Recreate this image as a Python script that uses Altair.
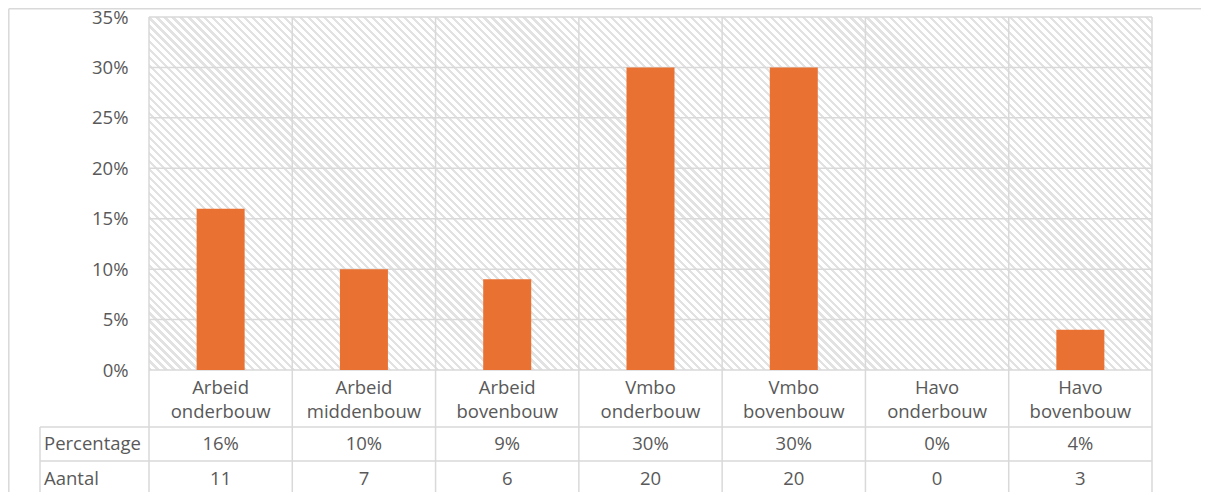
import altair as alt
import pandas as pd

# ---------------- data ----------------
categories = [
    "Arbeid onderbouw",
    "Arbeid middenbouw",
    "Arbeid bovenbouw",
    "Vmbo onderbouw",
    "Vmbo bovenbouw",
    "Havo onderbouw",
    "Havo bovenbouw",
]
percentages = [16, 10, 9, 30, 30, 0, 4]
counts = [11, 7, 6, 20, 20, 0, 3]
y_ticks = [0, 5, 10, 15, 20, 25, 30, 35]
row_labels = ["Percentage", "Aantal"]

# ---------------- style / layout ----------------
W, H = 1003, 353
GRID = "#d9d9d9"
HATCH = "#e2e2e2"
TEXT = "#595959"
BAR = "#E97132"
FONT = "Open Sans"
FS = 18.5

df = pd.DataFrame({
    "cat": categories,
    "pct": [p / 100 for p in percentages],
    "n": counts,
    "pct_label": [f"{p}%" for p in percentages],
    "n_label": [str(c) for c in counts],
})
ticks_df = pd.DataFrame({"pct": [t / 100 for t in y_ticks]})

# diagonal hatch as a striped linear gradient (objectBoundingBox units)
t = (W + H) / (W * W + H * H)
x2g, y2g = t * W, 1 - t * H
N = round((W + H) / 8)
stops = []
for i in range(N):
    a = round(i / N, 6)
    b = round((i + 0.4) / N, 6)
    c = round((i + 1) / N, 6)
    stops += [
        alt.GradientStop(color=HATCH, offset=a),
        alt.GradientStop(color=HATCH, offset=b),
        alt.GradientStop(color="#ffffff", offset=b),
        alt.GradientStop(color="#ffffff", offset=c),
    ]
hatch_fill = alt.LinearGradient(gradient="linear", stops=stops, x1=0, y1=1, x2=x2g, y2=y2g)

x_axis = alt.Axis(
    title=None, grid=False, domain=False, ticks=False, labelAngle=0,
    labelExpr="split(datum.label, ' ')", labelLineHeight=24, labelPadding=8,
    labelFont=FONT, labelFontSize=FS, labelColor=TEXT, labelLimit=0,
)
x_scale = alt.Scale(paddingInner=0, paddingOuter=0)
y_axis = alt.Axis(
    title=None, grid=False, domain=False, ticks=False, values=[t_ / 100 for t_ in y_ticks],
    format=".0%", labelPadding=21, labelFont=FONT, labelFontSize=FS, labelColor=TEXT,
)
y_scale = alt.Scale(domain=[0, 0.35], nice=False, zero=True)

def xenc(**kw):
    return alt.X("cat:N", sort=categories, scale=x_scale, axis=x_axis, **kw)

def yenc():
    return alt.Y("pct:Q", scale=y_scale, axis=y_axis)

one = alt.Data(values=[{"k": 1}])

def rule(x, y, x2=None, y2=None):
    enc = {"x": alt.value(x), "y": alt.value(y)}
    if x2 is not None:
        enc["x2"] = alt.value(x2)
    if y2 is not None:
        enc["y2"] = alt.value(y2)
    return alt.Chart(one).mark_rule(color=GRID, strokeWidth=1.5).encode(**enc)

hatch = alt.Chart(one).mark_rect(fill=hatch_fill).encode(
    x=alt.value(0), x2=alt.value(W), y=alt.value(0), y2=alt.value(H)
)

hgrid = alt.Chart(ticks_df).mark_rule(color=GRID, strokeWidth=1.5).encode(
    y=yenc(), x=alt.value(0), x2=alt.value(W)
)

vgrid = alt.Chart(df).mark_rule(color=GRID, strokeWidth=1.5).encode(
    x=xenc(bandPosition=0), y=alt.value(0), y2=alt.value(H + 140)
)
vright = rule(W, 0, y2=H + 140)

bars = alt.Chart(df).mark_bar(color=BAR, width=alt.RelativeBandSize(0.335)).encode(
    x=xenc(), y=yenc()
)

row1 = rule(-109, 410, x2=W)
row2 = rule(-109, 444, x2=W)
vleft = rule(-109, 410, y2=H + 140)

pct_text = alt.Chart(df).mark_text(
    font=FONT, fontSize=FS, color=TEXT, baseline="alphabetic", align="center"
).encode(x=xenc(), y=alt.value(433), text="pct_label:N")

n_text = alt.Chart(df).mark_text(
    font=FONT, fontSize=FS, color=TEXT, baseline="alphabetic", align="center"
).encode(x=xenc(), y=alt.value(468), text="n_label:N")

row_text1 = alt.Chart(alt.Data(values=[{"label": row_labels[0]}])).mark_text(
    font=FONT, fontSize=FS, color=TEXT, baseline="alphabetic", align="left"
).encode(x=alt.value(-105), y=alt.value(433), text="label:N")
row_text2 = alt.Chart(alt.Data(values=[{"label": row_labels[1]}])).mark_text(
    font=FONT, fontSize=FS, color=TEXT, baseline="alphabetic", align="left"
).encode(x=alt.value(-105), y=alt.value(468), text="label:N")

# outer chart frame (sits at the edge of the drawing surface)
frame_top = rule(-140.2, -8.2, x2=1059)
frame_left = rule(-140.2, -8.2, y2=700)

chart = alt.layer(
    hatch, hgrid, vgrid, vright, bars, row1, row2, vleft,
    pct_text, n_text, row_text1, row_text2, frame_top, frame_left
).properties(
    width=W, height=H,
    autosize=alt.AutoSizeParams(type="none"),
    padding={"left": 141, "top": 9, "right": 49, "bottom": 122},
).configure_view(strokeWidth=0)

chart.save("out.html", embed_options={"renderer": "svg", "actions": False})
